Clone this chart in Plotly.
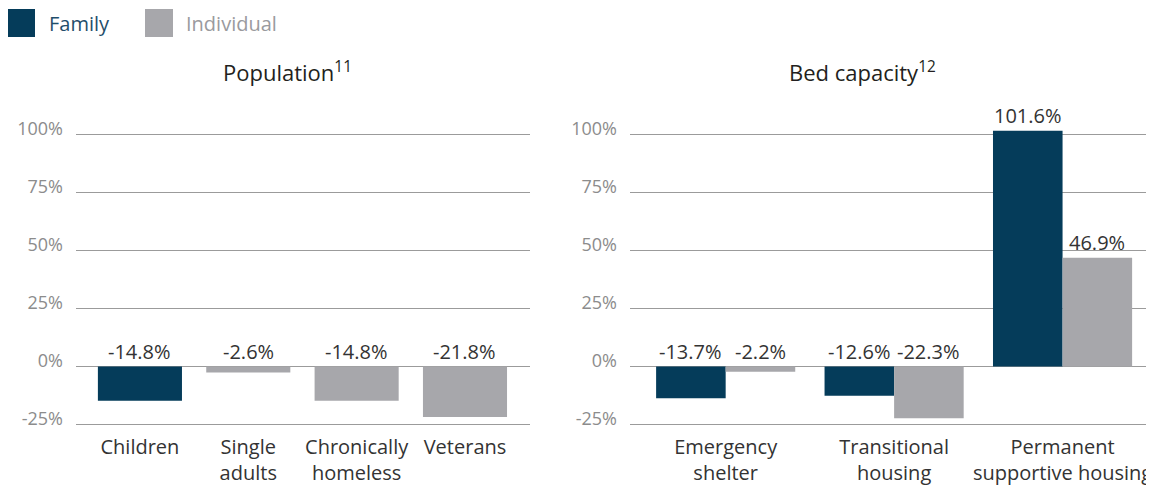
import plotly.graph_objects as go

# ---- data ----
pop_categories = ["Children", "Single<br>adults", "Chronically<br>homeless", "Veterans"]
pop_values = [-14.8, -2.6, -14.8, -21.8]
pop_series = ["Family", "Individual", "Individual", "Individual"]

bed_categories = ["Emergency<br>shelter", "Transitional<br>housing", "Permanent<br>supportive housing"]
bed_family = [-13.7, -12.6, 101.6]
bed_individual = [-2.2, -22.3, 46.9]

y_ticks = [-25, 0, 25, 50, 75, 100]
y_ticklabels = ["-25%", "0%", "25%", "50%", "75%", "100%"]

series_names = ["Family", "Individual"]
colors = {"Family": "#053C5A", "Individual": "#A7A7AB"}
legend_text_colors = {"Family": "#1F4E6B", "Individual": "#9A9A9E"}

FONT = "'Open Sans', Lato, sans-serif"
OFF = 8  # page body margin
W, H = 1154 - OFF, 487 - OFF

def px(x):
    return (x - OFF) / W

def py(y):
    return 1 - (y - OFF) / H

fig = go.Figure()

pop_x = list(range(len(pop_categories)))
fig.add_trace(go.Bar(
    x=pop_x, y=pop_values, width=0.776,
    marker=dict(color=[colors[s] for s in pop_series], line=dict(width=0)),
    xaxis="x", yaxis="y", showlegend=False, hoverinfo="skip",
))

bed_x = list(range(len(bed_categories)))
BW = 0.413
fig.add_trace(go.Bar(
    x=bed_x, y=bed_family, name="Family", width=BW, offset=-BW,
    marker=dict(color=colors["Family"], line=dict(width=0)),
    xaxis="x2", yaxis="y2", showlegend=False, hoverinfo="skip",
))
fig.add_trace(go.Bar(
    x=bed_x, y=bed_individual, name="Individual", width=BW, offset=0,
    marker=dict(color=colors["Individual"], line=dict(width=0)),
    xaxis="x2", yaxis="y2", showlegend=False, hoverinfo="skip",
))

annotations = []
label_font = dict(family=FONT, size=20, color="#333333")

def fmt(v):
    return f"{v:.1f}%"

for i, v in enumerate(pop_values):
    annotations.append(dict(x=i, y=max(v, 0), xref="x", yref="y", text=fmt(v),
                            showarrow=False, yanchor="bottom", yshift=0, font=label_font))
for i, (f, ind) in enumerate(zip(bed_family, bed_individual)):
    annotations.append(dict(x=i - BW / 2, y=max(f, 0), xref="x2", yref="y2", text=fmt(f),
                            showarrow=False, yanchor="bottom", yshift=0, font=label_font))
    annotations.append(dict(x=i + BW / 2, y=max(ind, 0), xref="x2", yref="y2", text=fmt(ind),
                            showarrow=False, yanchor="bottom", yshift=0, font=label_font))

# titles
title_font = dict(family=FONT, size=22, color="#231F20")
annotations.append(dict(x=px(287), y=py(71), xref="paper", yref="paper", showarrow=False,
                        text="Population<sup>11</sup>", font=title_font, xanchor="center", yanchor="middle"))
annotations.append(dict(x=px(862), y=py(71), xref="paper", yref="paper", showarrow=False,
                        text="Bed capacity<sup>12</sup>", font=title_font, xanchor="center", yanchor="middle"))

# legend (drawn manually for large swatches)
shapes = []
legend_items = [(series_names[0], 7, 47), (series_names[1], 145, 184)]
for name, sx, tx in legend_items:
    shapes.append(dict(type="rect", xref="paper", yref="paper",
                       x0=px(sx), x1=px(sx + 28), y0=py(37), y1=py(9),
                       fillcolor=colors[name], line=dict(width=0)))
    annotations.append(dict(x=px(tx), y=py(24), xref="paper", yref="paper", showarrow=False,
                            text=name, xanchor="left", yanchor="middle",
                            font=dict(family=FONT, size=20, color=legend_text_colors[name])))

yaxis_common = dict(
    range=[-25.5, 110], tickvals=y_ticks, ticktext=y_ticklabels,
    showgrid=True, gridcolor="#9B9B9B", gridwidth=1, zeroline=False,
    showline=False, ticks="", ticklabelstandoff=12, ticklabelshift=-6, automargin=False,
    tickfont=dict(family=FONT, size=18, color="#8C8C8C"),
    domain=[py(425.7), py(111.3)], fixedrange=True,
)
xaxis_common = dict(
    showgrid=False, zeroline=False, showline=False, ticks="", automargin=False,
    tickfont=dict(family=FONT, size=20, color="#333333"),
    ticklabelstandoff=7, fixedrange=True,
)

fig.update_layout(
    width=W, height=H,
    margin=dict(l=0, r=0, t=0, b=0, autoexpand=False),
    paper_bgcolor="white", plot_bgcolor="white",
    font=dict(family=FONT),
    showlegend=False,
    xaxis=dict(**xaxis_common, domain=[px(76), px(530)], range=[-0.59, 3.6],
               tickvals=pop_x, ticktext=pop_categories, anchor="y"),
    yaxis=dict(**yaxis_common, anchor="x"),
    xaxis2=dict(**xaxis_common, domain=[px(630), px(1152)], range=[-0.568, 2.531],
                tickvals=bed_x, ticktext=bed_categories, anchor="y2"),
    yaxis2=dict(**yaxis_common, anchor="x2"),
    annotations=annotations,
    shapes=shapes,
)

fig.write_html("out.html")
